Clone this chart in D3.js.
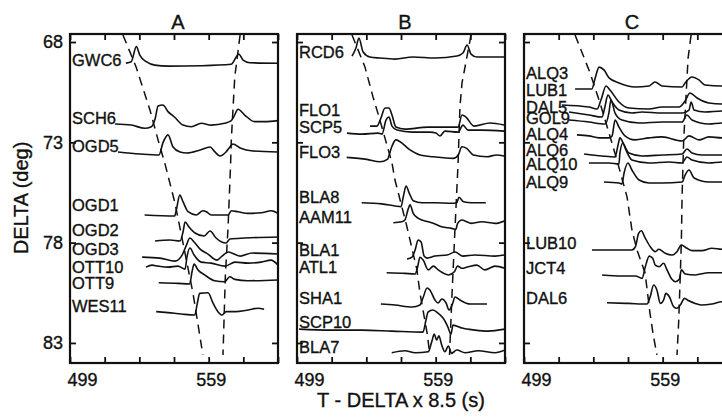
<!DOCTYPE html>
<html>
<head>
<meta charset="utf-8">
<script src="https://cdn.jsdelivr.net/npm/d3@7"></script>
<style>
  body { margin: 0; background: #fff; }
  svg { display: block; font-family: "Liberation Sans", Arial, Helvetica, sans-serif; }
  svg text { stroke: #111; stroke-width: 0.35px; }
</style>
</head>
<body>
<svg id="chart" width="722" height="417"></svg>
<script>
// axis values
const xTicks = [499, 514, 529, 544, 559, 574, 589];
const xTickLabels = [499, 559];
const yTicks = [68, 73, 78, 83];

// ---------------------------------------------------------------------------
// Panel A : station names, label distance (deg), traces as [time, delta]
const stationsA = ["GWC6", "SCH6", "OGD5", "OGD1", "OGD2", "OGD3", "OTT10", "OTT9", "WES11"];
const labelDeltaA = [68.90, 71.79, 73.18, 76.12, 77.37, 78.32, 79.22, 80.01, 81.16];
const tracesA = [
  [[523.2,69.05],[525.5,68.98],[527.7,68.23],[529.2,68.65],[532.0,68.98],[535.7,69.15],[541.4,69.20],[555.7,69.18],[568.7,69.11],[571.0,68.73],[572.0,68.60],[573.9,68.90],[576.8,69.03],[589,69.06]],
  [[518.5,72.09],[525.5,72.14],[531.3,72.30],[534.2,72.22],[535.9,71.80],[537.1,71.19],[539.2,71.14],[541.4,71.47],[544.3,71.75],[547.9,72.14],[551.5,72.22],[555.8,72.05],[560.1,72.14],[565.9,72.05],[568.8,71.92],[570.0,71.69],[571.7,71.35],[574.6,71.64],[578.9,71.97],[583.2,71.97],[589,71.92]],
  [[519.8,73.48],[529.3,73.58],[537.5,73.63],[539.2,73.03],[541.4,72.63],[543.6,73.23],[546.6,73.48],[549.6,73.53],[555.3,73.38],[559.6,73.23],[561.7,73.48],[563.9,73.68],[566.5,73.48],[568.2,73.23],[569.5,73.08],[572.6,73.28],[578.2,73.43],[589,73.48]],
  [[531.3,76.62],[544.3,76.67],[545.0,76.37],[546.5,75.63],[547.9,75.96],[550.1,76.46],[553.6,76.62],[556.5,76.41],[558.0,76.46],[560.1,76.62],[567.4,76.62],[568.8,76.41],[571.7,76.46],[576.0,76.54],[581.8,76.51],[586.1,76.41],[589,76.54]],
  [[535.8,77.92],[542.3,77.87],[546.6,77.92],[547.9,77.47],[548.8,76.97],[550.5,77.22],[553.1,77.52],[557.0,77.67],[559.6,77.42],[562.2,77.77],[566.5,78.02],[568.2,77.82],[574.7,77.77],[589,77.72]],
  [[530.2,78.72],[537.9,78.77],[544.4,78.92],[547.5,78.62],[549.2,78.17],[550.9,77.77],[552.7,77.97],[555.3,78.32],[558.7,78.57],[562.6,78.87],[564.8,78.67],[567.4,78.47],[572.6,78.67],[577.8,78.52],[589,78.57]],
  [[531.9,79.22],[534.5,79.12],[537.1,79.17],[541.4,79.22],[545.7,79.17],[548.8,79.32],[549.6,78.72],[550.9,78.27],[552.7,78.62],[555.7,78.97],[560.0,79.02],[566.1,79.17],[570.4,78.97],[576.0,79.02],[581.6,78.97],[586.0,78.87],[589,79.12]],
  [[537.4,80.00],[545.7,80.03],[550.8,80.06],[551.8,79.45],[552.7,79.07],[554.4,79.36],[557.3,79.61],[561.6,79.90],[565.9,79.95],[568.1,79.70],[570.3,79.83],[576.0,79.90],[589,79.86]],
  [[536.3,81.44],[541.4,81.49],[547.2,81.56],[553.0,81.61],[554.1,81.02],[555.1,80.53],[558.7,80.50],[560.9,81.02],[563.0,81.44],[564.8,81.61],[566.6,81.44],[570.3,81.44],[576.0,81.36],[580.3,81.27],[583.0,81.32]]
];
const firstArrivalA = [[521.9,67.65],[527.6,69.24],[533.6,71.39],[537.1,72.88],[540.0,74.03],[544.4,76.02],[547.9,78.02],[552.2,80.51],[556.5,83.6]];
const secondArrivalA = [[572.6,67.65],[570.3,69.73],[569.5,71.39],[568.8,72.88],[568.5,74.05],[567.4,77.21],[566.2,79.70],[565.2,83.6]];

// Panel B
const stationsB = ["RCD6", "FLO1", "SCP5", "FLO3", "BLA8", "AAM11", "BLA1", "ATL1", "SHA1", "SCP10", "BLA7"];
const labelDeltaB = [68.50, 71.39, 72.24, 73.48, 75.73, 76.72, 78.37, 79.22, 80.76, 81.96, 83.20];
const tracesB = [
  [[522.8,68.70],[524.5,68.30],[525.8,67.80],[527.6,68.50],[530.6,68.75],[534.9,68.80],[541.4,68.85],[549.2,68.75],[558.7,68.80],[568.2,68.70],[570.8,68.55],[572.6,68.15],[574.3,68.60],[576.9,68.75],[588.6,68.75]],
  [[530.6,72.19],[533.6,72.19],[535.3,71.79],[537.1,71.29],[538.8,71.29],[540.1,71.64],[541.8,72.24],[545.7,72.34],[555.7,72.24],[568.7,72.24],[570.4,71.64],[572.1,71.74],[575.6,72.19],[582.5,72.04],[588.6,72.14]],
  [[520.6,72.54],[527.1,72.59],[534.0,72.54],[535.8,72.59],[537.5,71.89],[538.8,71.74],[540.1,72.19],[542.3,72.39],[548.8,72.49],[556.5,72.49],[559.1,72.54],[560.9,72.68],[563.0,72.44],[568.7,72.49],[570.8,72.14],[573.0,72.39],[579.0,72.39],[588.6,72.44]],
  [[520.5,73.75],[529.2,73.85],[534.9,73.97],[538.1,73.85],[540.0,73.22],[541.8,72.88],[543.6,72.97],[547.9,73.38],[552.2,73.63],[558.0,73.72],[566.6,73.80],[568.8,73.63],[570.3,73.22],[572.4,73.30],[575.3,73.63],[581.1,73.72],[585.4,73.63],[588.6,73.68]],
  [[527.0,76.01],[535.6,76.07],[541.4,76.17],[544.0,76.21],[545.0,75.71],[546.2,75.18],[547.6,75.54],[549.3,75.91],[553.0,76.01],[558.7,76.01],[565.9,76.04],[568.1,76.01],[569.1,75.74],[571.0,75.96],[574.6,76.01],[580.7,76.01]],
  [[540.7,77.01],[544.3,76.96],[545.7,76.87],[547.2,76.29],[547.9,76.12],[549.3,76.54],[551.5,76.79],[555.8,76.96],[558.7,77.07],[561.6,77.21],[565.9,77.29],[567.7,77.34],[568.5,77.04],[570.3,76.87],[574.6,77.04],[578.9,76.96],[584.7,77.04],[589,76.91]],
  [[546.6,78.82],[548.8,78.72],[550.1,78.37],[551.4,77.87],[552.7,77.97],[554.0,78.67],[555.3,78.77],[558.7,78.67],[563.9,78.62],[567.4,78.47],[570.8,78.67],[576.0,78.62],[584.7,78.67],[588.6,78.62]],
  [[537.8,79.50],[545.7,79.53],[550.1,79.56],[551.2,79.20],[552.2,78.73],[553.6,78.87],[555.8,79.36],[558.0,79.17],[560.1,79.36],[564.5,79.61],[567.1,79.45],[568.5,79.17],[570.3,79.28],[573.1,79.20],[576.8,79.12],[580.3,79.36],[584.7,79.17],[589,79.28]],
  [[535.3,81.06],[541.4,81.11],[548.8,81.21],[552.2,81.11],[553.5,80.76],[555.3,80.26],[556.5,80.36],[558.7,80.86],[560.0,81.01],[561.7,80.81],[563.5,81.01],[564.8,81.36],[566.1,81.11],[567.4,80.71],[569.5,80.86],[573.9,81.06],[581.2,81.06]],
  [[499.9,82.31],[513.3,82.36],[527.1,82.36],[540.1,82.41],[553.5,82.46],[554.8,81.86],[555.7,81.46],[557.8,81.36],[560.0,81.51],[562.2,81.76],[564.3,82.21],[565.6,82.56],[566.5,82.11],[570.4,82.26],[576.0,82.36],[581.6,82.41],[589,82.31]],
  [[540.0,83.49],[545.7,83.39],[550.1,83.49],[555.8,83.44],[557.3,82.94],[558.4,82.56],[559.4,82.85],[560.4,82.65],[561.6,83.10],[563.0,83.44],[564.5,83.15],[565.9,83.52],[568.1,83.35],[571.7,83.49],[577.4,83.39],[584.7,83.49],[589,83.35]]
];
const firstArrivalB = [[522.8,67.65],[528.4,69.24],[531.9,70.74],[534.5,71.74],[540.1,74.03],[541.4,74.88],[546.6,77.22],[550.9,79.36],[552.2,80.51],[555.3,82.51],[556.5,83.6]];
const secondArrivalB = [[574.3,67.65],[570.4,70.04],[569.5,71.24],[568.7,74.03],[567.4,77.22],[566.1,80.51],[565.0,83.6]];

// Panel C
const stationsC = ["ALQ3", "LUB1", "DAL5", "GOL9", "ALQ4", "ALQ6", "ALQ10", "ALQ9", "LUB10", "JCT4", "DAL6"];
const labelDeltaC = [69.54, 70.39, 71.24, 71.79, 72.59, 73.38, 74.08, 74.98, 78.02, 79.26, 80.76];
const tracesC = [
  [[521.1,70.34],[528.4,70.34],[529.7,69.84],[531.5,69.25],[533.6,69.39],[535.8,69.79],[540.1,70.04],[547.0,70.24],[553.1,70.19],[555.7,69.99],[558.7,70.19],[567.4,70.24],[568.7,70.04],[571.7,69.74],[574.7,69.89],[577.3,70.14],[584.7,70.19],[589,70.19]],
  [[515.4,71.14],[527.1,71.24],[530.6,71.34],[532.3,70.89],[534.5,70.19],[536.2,70.39],[540.1,70.99],[544.4,71.29],[553.1,71.34],[558.7,71.24],[566.1,71.24],[568.7,70.94],[570.8,70.54],[573.9,70.79],[579.0,71.04],[584.7,71.09],[589,71.09]],
  [[518.5,71.49],[527.1,71.64],[532.8,71.74],[534.0,71.24],[535.3,70.64],[537.1,70.99],[540.1,71.39],[545.7,71.54],[550.1,71.49],[558.7,71.54],[567.4,71.54],[570.4,71.39],[571.3,70.99],[572.6,71.39],[577.3,71.49],[584.7,71.44],[589,71.44]],
  [[518.5,71.89],[527.1,71.99],[534.0,72.09],[535.8,71.49],[536.6,70.89],[538.4,71.54],[541.4,71.89],[548.8,72.04],[558.7,71.99],[567.4,71.99],[569.5,71.64],[571.7,71.89],[579.0,72.09],[584.7,72.04],[589,72.04]],
  [[521.9,72.63],[527.1,72.68],[531.5,72.78],[535.8,72.78],[537.1,72.68],[538.4,71.89],[540.1,72.24],[542.7,72.68],[547.0,72.88],[553.1,72.78],[558.7,72.73],[567.4,72.93],[570.4,72.68],[574.7,72.88],[579.0,72.73],[584.7,72.78],[589,72.78]],
  [[525.0,73.58],[532.8,73.68],[538.4,73.73],[539.7,73.13],[540.5,72.78],[542.3,73.13],[544.4,73.53],[550.1,73.68],[558.7,73.63],[567.4,73.58],[569.5,73.33],[571.7,73.53],[576.0,73.63],[584.7,73.63],[589,73.63]],
  [[527.1,74.03],[535.8,74.03],[540.1,74.08],[540.5,73.53],[541.8,73.03],[543.1,73.38],[545.7,73.88],[553.1,74.03],[561.7,73.98],[567.4,74.03],[569.5,73.73],[571.7,73.88],[579.0,74.03],[584.7,73.98],[589,73.98]],
  [[533.6,74.98],[540.1,75.03],[541.4,75.08],[542.3,74.53],[544.0,74.03],[545.7,74.38],[548.8,74.88],[553.1,75.03],[558.7,75.03],[567.4,74.98],[568.7,74.63],[570.4,74.38],[572.6,74.78],[579.0,74.98],[584.7,74.98],[589,74.98]],
  [[528.4,78.37],[538.5,78.37],[545.7,78.37],[547.2,78.20],[548.6,77.54],[549.8,77.41],[551.2,77.71],[553.6,78.20],[555.8,78.45],[557.3,78.33],[560.1,78.53],[563.0,78.62],[565.2,78.45],[567.1,78.12],[569.5,78.28],[571.7,78.40],[576.0,78.40],[580.3,78.28],[584.7,78.33],[589,78.33]],
  [[532.8,79.61],[541.4,79.66],[547.2,79.66],[550.1,79.78],[551.5,79.20],[553.2,78.67],[554.7,78.78],[555.8,79.12],[557.5,79.20],[559.4,79.03],[560.9,79.36],[563.0,79.83],[564.5,79.95],[566.2,79.83],[567.1,79.36],[568.8,79.56],[573.1,79.61],[578.9,79.50],[584.7,79.50],[589,79.50]],
  [[534.9,81.00],[544.3,81.03],[552.2,81.06],[553.6,80.70],[555.1,80.11],[556.5,80.36],[558.0,81.03],[559.4,80.86],[560.4,80.53],[561.9,80.70],[563.8,81.20],[565.2,81.27],[566.6,81.11],[568.5,80.78],[570.3,80.90],[573.1,81.03],[576.0,81.11],[580.3,81.06],[584.7,80.95],[589,80.95]]
];
const firstArrivalC = [[521.1,67.65],[527.6,69.54],[531.9,71.04],[535.8,72.54],[539.2,73.88],[543.6,75.73],[545.7,77.37],[547.9,78.37],[551.4,79.51],[553.5,81.51],[554.8,82.51],[556.5,83.6]];
const secondArrivalC = [[571.3,67.65],[570.0,68.80],[568.1,72.88],[567.4,75.71],[567.1,77.87],[566.6,79.70],[565.9,82.02],[565.2,83.6]];

// ---------------------------------------------------------------------------
// layout
const panelLefts = [70, 297, 524];
const panelWidth = 208;
const plotTop = 34;
const plotBottom = 363;

const panels = [
  { title: "A", stations: stationsA, labels: labelDeltaA, traces: tracesA, first: firstArrivalA, second: secondArrivalA },
  { title: "B", stations: stationsB, labels: labelDeltaB, traces: tracesB, first: firstArrivalB, second: secondArrivalB },
  { title: "C", stations: stationsC, labels: labelDeltaC, traces: tracesC, first: firstArrivalC, second: secondArrivalC }
];

const svg = d3.select("#chart");
svg.append("rect").attr("width", 722).attr("height", 417).attr("fill", "#fff");

const y = d3.scaleLinear().domain([67.6, 84]).range([plotTop, plotBottom]);

panels.forEach((p, i) => {
  const left = panelLefts[i];
  const x = d3.scaleLinear().domain([499, 589]).range([left, left + panelWidth]);
  const line = d3.line().x((d) => x(d[0])).y((d) => y(d[1]));
  const wiggle = d3.line().x((d) => x(d[0])).y((d) => y(d[1])).curve(d3.curveMonotoneX);

  const g = svg.append("g").attr("class", "panel-" + p.title);

  g.append("clipPath")
    .attr("id", "clip" + i)
    .append("rect")
    .attr("x", left)
    .attr("y", plotTop)
    .attr("width", panelWidth)
    .attr("height", plotBottom - plotTop);

  const inner = g.append("g").attr("clip-path", "url(#clip" + i + ")");

  // travel time curves
  inner.selectAll("path.arrival")
    .data([p.first, p.second])
    .join("path")
    .attr("class", "arrival")
    .attr("d", line)
    .attr("fill", "none")
    .attr("stroke", "#111")
    .attr("stroke-width", 1.5)
    .attr("stroke-dasharray", "9,6");

  // seismograms
  inner.selectAll("path.trace")
    .data(p.traces)
    .join("path")
    .attr("class", "trace")
    .attr("d", wiggle)
    .attr("fill", "none")
    .attr("stroke", "#111")
    .attr("stroke-width", 1.6)
    .attr("stroke-linejoin", "round");

  // station names
  g.selectAll("text.station")
    .data(p.stations)
    .join("text")
    .attr("class", "station")
    .attr("x", left + 2)
    .attr("y", (d, k) => y(p.labels[k]))
    .attr("dy", "0.36em")
    .attr("font-size", 16.5)
    .attr("fill", "#111")
    .text((d) => d);

  // inward ticks on every side
  const tickStyle = (sel) => {
    sel.select(".domain").remove();
    sel.selectAll("line").attr("stroke", "#111").attr("stroke-width", 1.8);
  };
  g.append("g").attr("transform", `translate(0,${plotBottom})`)
    .call(d3.axisBottom(x).tickValues(xTicks).tickSize(-6).tickFormat(""))
    .call(tickStyle);
  g.append("g").attr("transform", `translate(0,${plotTop})`)
    .call(d3.axisTop(x).tickValues(xTicks).tickSize(-6).tickFormat(""))
    .call(tickStyle);
  g.append("g").attr("transform", `translate(${left},0)`)
    .call(d3.axisLeft(y).tickValues(yTicks).tickSize(-6).tickFormat(""))
    .call(tickStyle);
  g.append("g").attr("transform", `translate(${left + panelWidth},0)`)
    .call(d3.axisRight(y).tickValues(yTicks).tickSize(-6).tickFormat(""))
    .call(tickStyle);

  // x tick labels
  const xl = g.append("g").attr("transform", `translate(0,${plotBottom})`)
    .call(d3.axisBottom(x).tickValues(xTickLabels).tickSize(0).tickPadding(10));
  xl.select(".domain").remove();
  xl.selectAll("text")
    .attr("font-size", 18)
    .attr("font-family", "Liberation Sans, Arial, sans-serif")
    .attr("fill", "#111")
    .attr("text-anchor", (d, k) => (k === 0 ? "start" : "middle"))
    .attr("dx", (d, k) => (k === 0 ? -3 : 2));

  // frame
  g.append("rect")
    .attr("x", left)
    .attr("y", plotTop)
    .attr("width", panelWidth)
    .attr("height", plotBottom - plotTop)
    .attr("fill", "none")
    .attr("stroke", "#111")
    .attr("stroke-width", 2.2);

  // panel title
  g.append("text")
    .attr("x", left + panelWidth / 2 + 4)
    .attr("y", 29)
    .attr("text-anchor", "middle")
    .attr("font-size", 20)
    .attr("fill", "#111")
    .text(p.title);

  // y tick labels only on the first panel
  if (i === 0) {
    const yl = g.append("g").attr("transform", `translate(${left},0)`)
      .call(d3.axisLeft(y).tickValues(yTicks).tickSize(0).tickPadding(7));
    yl.select(".domain").remove();
    yl.selectAll("text")
      .attr("font-size", 18)
      .attr("font-family", "Liberation Sans, Arial, sans-serif")
      .attr("fill", "#111");
  }
});

// axis titles
svg.append("text")
  .attr("x", 401)
  .attr("y", 407)
  .attr("text-anchor", "middle")
  .attr("font-size", 20)
  .attr("fill", "#111")
  .text("T - DELTA x 8.5 (s)");

svg.append("text")
  .attr("transform", "translate(28,198) rotate(-90)")
  .attr("text-anchor", "middle")
  .attr("font-size", 20)
  .attr("fill", "#111")
  .text("DELTA (deg)");
</script>
</body>
</html>
